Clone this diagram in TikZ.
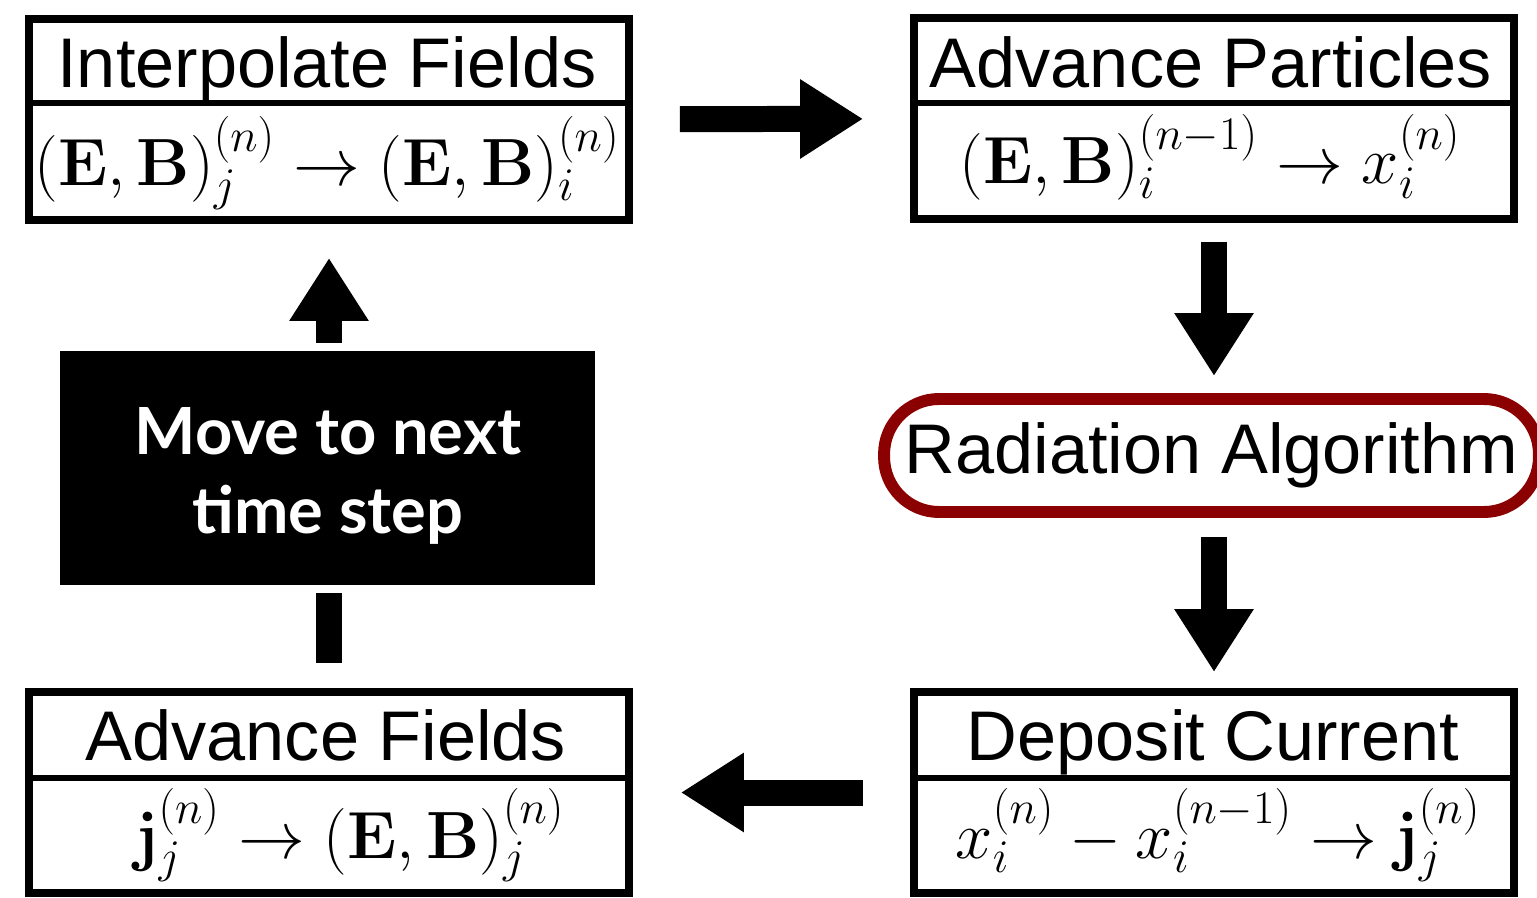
\documentclass[tikz,border=0pt]{standalone}
\usepackage{fix-cm}
\usepackage{amsmath}
\usepackage[no-math]{fontspec}
\setmainfont{Liberation Sans}
\newfontfamily\nextfont{Lato}
\usetikzlibrary{shapes,arrows.meta,positioning,calc}
\definecolor{RadRed}{RGB}{139, 0, 0}

\tikzset{
  stepbox/.style={draw, line width=4.5pt, minimum width=12cm, minimum height=4.02cm, inner sep=0pt},
  titletext/.style={font=\fontsize{40}{48}\selectfont, inner sep=0pt, anchor=base},
  mathtext/.style={font=\fontsize{38}{44}\selectfont, inner sep=0pt, anchor=base},
  bigarrow/.style={line width=0.52cm, -{Triangle[width=1.5cm, length=1.26cm]}},
}

\begin{document}
\begin{tikzpicture}[x=0.02cm, y=-0.02cm]
\useasboundingbox (0,0) rectangle (1537,898);

% Step boxes
\node[stepbox] (interp) at (329,119.5) {};
\node[stepbox] (adv) at (1214,118.5) {};
\node[stepbox] (advf) at (329,792.5) {};
\node[stepbox] (dep) at (1214,792.5) {};
\draw[line width=3.4pt] (interp.west |- 0,103) -- (interp.east |- 0,103);
\draw[line width=3.4pt] (adv.west |- 0,103) -- (adv.east |- 0,103);
\draw[line width=3.4pt] (advf.west |- 0,778) -- (advf.east |- 0,778);
\draw[line width=3.4pt] (dep.west |- 0,778) -- (dep.east |- 0,778);

% Titles and formulas
\node[titletext] (interpT) at (327,88) {Interpolate Fields};
\node[mathtext] (interpM) at (327,186) {$(\mathbf{E},\mathbf{B})_j^{(n)} \to (\mathbf{E},\mathbf{B})_i^{(n)}$};
\node[titletext] (advT) at (1211,88) {Advance Particles};
\node[mathtext] (advM) at (1210,184) {$(\mathbf{E},\mathbf{B})_i^{(n-1)} \to x_i^{(n)}$};
\node[titletext] (advfT) at (326,760) {Advance Fields};
\node[mathtext] (advfM) at (350,858) {$\mathbf{j}_j^{(n)} \to (\mathbf{E},\mathbf{B})_j^{(n)}$};
\node[titletext] (depT) at (1213,760) {Deposit Current};
\node[mathtext] (depM) at (1218,858) {$x_i^{(n)} - x_i^{(n-1)} \to \mathbf{j}_j^{(n)}$};

% Radiation step
\node[draw=RadRed, line width=6.8pt, rounded corners=1.1cm, minimum width=13.1cm,
  minimum height=2.26cm, font=\fontsize{40}{48}\selectfont] (rad) at (1211.5,455.5) {Radiation Algorithm};

% Arrows
\draw[bigarrow, shorten <=0.94cm, shorten >=0.94cm] (interp) -- (adv);
\draw[bigarrow, shorten <=0.38cm, shorten >=0.34cm] (adv.south) -- (adv.south |- rad.north);
\draw[bigarrow, shorten <=0.38cm, shorten >=0.32cm] (dep.north |- rad.south) -- (dep.north);
\draw[bigarrow, shorten <=0.94cm, shorten >=0.96cm] (dep) -- (advf);
\draw[bigarrow, shorten <=0.5cm, shorten >=0.68cm] (advf.north) -- (interp.south);

% Loop box
\node[fill=black, draw=white, line width=4.5pt, minimum width=10.86cm, minimum height=4.84cm] (next) at (327.5,468) {};
\node[text=white, align=center, font=\nextfont\bfseries\fontsize{37}{45}\selectfont] (nextT) at (328,476) {Move to next\\time step};
\end{tikzpicture}
\end{document}
